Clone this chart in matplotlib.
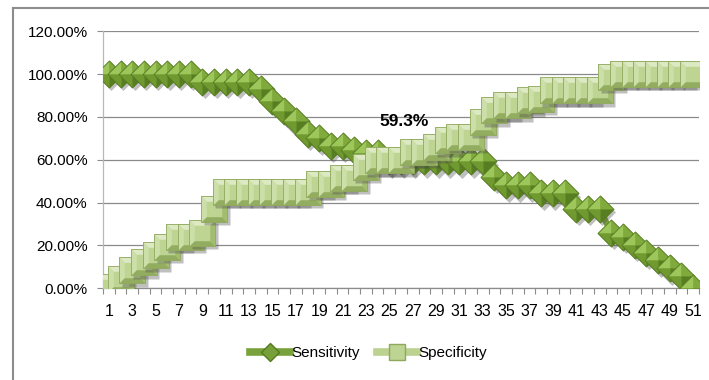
import numpy as np
import matplotlib
matplotlib.use("Agg")
import matplotlib.pyplot as plt
from matplotlib.path import Path
from matplotlib.lines import Line2D
from matplotlib.transforms import offset_copy

plt.rcParams['font.family'] = ['Liberation Sans', 'DejaVu Sans']

# data
cats = list(range(1, 52))
sensitivity = [100, 100, 100, 100, 100, 100, 100, 100,
               96.3, 96.3, 96.3, 96.3, 96.3,
               93.0, 87.5, 83.0, 78.0, 72.0, 70.0, 66.5, 66.5, 64.5, 63.0, 63.0,
               59.3, 59.3, 59.3, 59.3, 59.3, 59.3, 59.3, 59.3, 59.3,
               51.9, 48.1, 48.1, 48.1, 44.4, 44.4, 44.4, 37.0, 37.0, 37.0,
               25.9, 24.1, 20.4, 16.7, 13.0, 9.3, 5.6, 0.0]
specificity = [0.7, 4.5, 8.4, 12.2, 15.4, 19.3, 23.9, 23.9, 25.9, 37.2,
               45.0, 45.0, 45.0, 45.0, 45.0, 45.0, 45.0, 45.0,
               48.9, 48.9, 51.5, 51.5, 56.7, 59.7, 59.7, 59.7, 63.7, 63.7,
               66.0, 69.1, 70.7, 70.7, 77.7, 83.1, 85.4, 85.4, 87.8, 88.5,
               92.4, 92.4, 92.4, 92.4, 92.4, 98.7,
               100, 100, 100, 100, 100, 100, 100]
series_names = ['Sensitivity', 'Specificity']
yticks = [0, 20, 40, 60, 80, 100, 120]
callout = '59.3%'

W, H = 709, 380
fig = plt.figure(figsize=(W / 100, H / 100), dpi=100)
ax = fig.add_axes([103 / W, (H - 288.3) / H, 596 / W, 257 / H])

# marker pieces (unit coords, every piece touches |1| so they scale alike)
def poly(pts):
    pts = list(pts) + [pts[0]]
    codes = [Path.MOVETO] + [Path.LINETO] * (len(pts) - 2) + [Path.CLOSEPOLY]
    return Path(pts, codes)

diamond = poly([(0, 1), (1, 0), (0, -1), (-1, 0)])
diamond_facets = [
    (poly([(0, 0), (-1, 0), (0, 1)]), '#9dc75a'),
    (poly([(0, 0), (0, 1), (1, 0)]), '#80ab3c'),
    (poly([(0, 0), (-1, 0), (0, -1)]), '#70992f'),
    (poly([(0, 0), (0, -1), (1, 0)]), '#587e22'),
]
b = 0.6
square = poly([(-1, -1), (-1, 1), (1, 1), (1, -1)])
square_facets = [
    (poly([(-1, 1), (1, 1), (b, b), (-b, b)]), '#dde9c3'),
    (poly([(-1, 1), (-b, b), (-b, -b), (-1, -1)]), '#cddfa8'),
    (poly([(1, 1), (1, -1), (b, -b), (b, b)]), '#a3bd6f'),
    (poly([(-1, -1), (1, -1), (b, -b), (-b, -b)]), '#93ad60'),
]

shadow_tr = offset_copy(ax.transData, fig=fig, x=1.8, y=-2.4, units='points')


def draw_series(xs, ys, line_color, shape, base_color, facets, edge, ms, z):
    ax.plot(xs, ys, color=line_color, lw=4.5, solid_capstyle='round', zorder=z)
    for x, y in zip(xs, ys):
        ax.plot([x], [y], marker=shape, ms=ms, mfc='#4a4a4a', mec='none', ls='none',
                alpha=0.35, transform=shadow_tr, zorder=z)
        ax.plot([x], [y], marker=shape, ms=ms, mfc=base_color, mec='none', ls='none', zorder=z)
        for path, col in facets:
            ax.plot([x], [y], marker=path, ms=ms, mfc=col, mec='none', ls='none', zorder=z)
        ax.plot([x], [y], marker=shape, ms=ms, mfc='none', mec=edge, mew=0.6, ls='none', zorder=z)


draw_series(cats, sensitivity, '#7aa23c', diamond, '#77a03a', diamond_facets, '#557a20', 19.5, 3)
draw_series(cats, specificity, '#bcd290', square, '#bed493', square_facets, '#8fa85c', 18.5, 4)

ax.text(26.3, 77.7, callout, ha='center', va='center', fontsize=12.5,
        fontweight='bold', zorder=6)

ax.set_xlim(0.5, 51.5)
ax.set_ylim(0, 120)
ax.set_yticks(yticks)
ax.set_yticklabels(['%.2f%%' % v for v in yticks])
ax.set_xticks(cats)
ax.set_xticklabels([str(c) if c % 2 == 1 else '' for c in cats])
ax.set_xticks(np.arange(0.5, 52, 1), minor=True)
ax.tick_params(axis='x', which='major', length=0, pad=11.5, labelsize=11.5)
ax.tick_params(axis='x', which='minor', length=4, color='#8c8c8c', width=0.8)
ax.tick_params(axis='y', length=4, color='#8c8c8c', width=0.8, pad=7, labelsize=11)

ax.yaxis.grid(True, color='#8a8a8a', lw=0.9)
ax.set_axisbelow(True)
for s in ['top', 'right']:
    ax.spines[s].set_visible(False)
ax.spines['left'].set_color('#b8b8b8')
ax.spines['bottom'].set_color('#8c8c8c')
ax.spines['left'].set_linewidth(0.9)
ax.spines['bottom'].set_linewidth(0.9)

# chart border, runs off the right and bottom edges
fig.add_artist(Line2D([12.5 / W, 12.5 / W], [0, 1 - 8 / H], color='#8c8c8c', lw=1.5))
fig.add_artist(Line2D([12.5 / W, 1], [1 - 8 / H, 1 - 8 / H], color='#8c8c8c', lw=1.5))

handles = [
    Line2D([], [], color='#7aa23c', lw=5.5, marker=diamond, ms=13, mfc='#77a03a', mec='#557a20'),
    Line2D([], [], color='#bcd290', lw=5.5, marker='s', ms=11, mfc='#bed493', mec='#8fa85c'),
]
fig.legend(handles, series_names, loc='center', bbox_to_anchor=(368.5 / W, 27 / H),
           ncol=2, frameon=False, fontsize=11, handlelength=2.6, handletextpad=0.1,
           columnspacing=1.1)

fig.savefig('out.png', dpi=100)
